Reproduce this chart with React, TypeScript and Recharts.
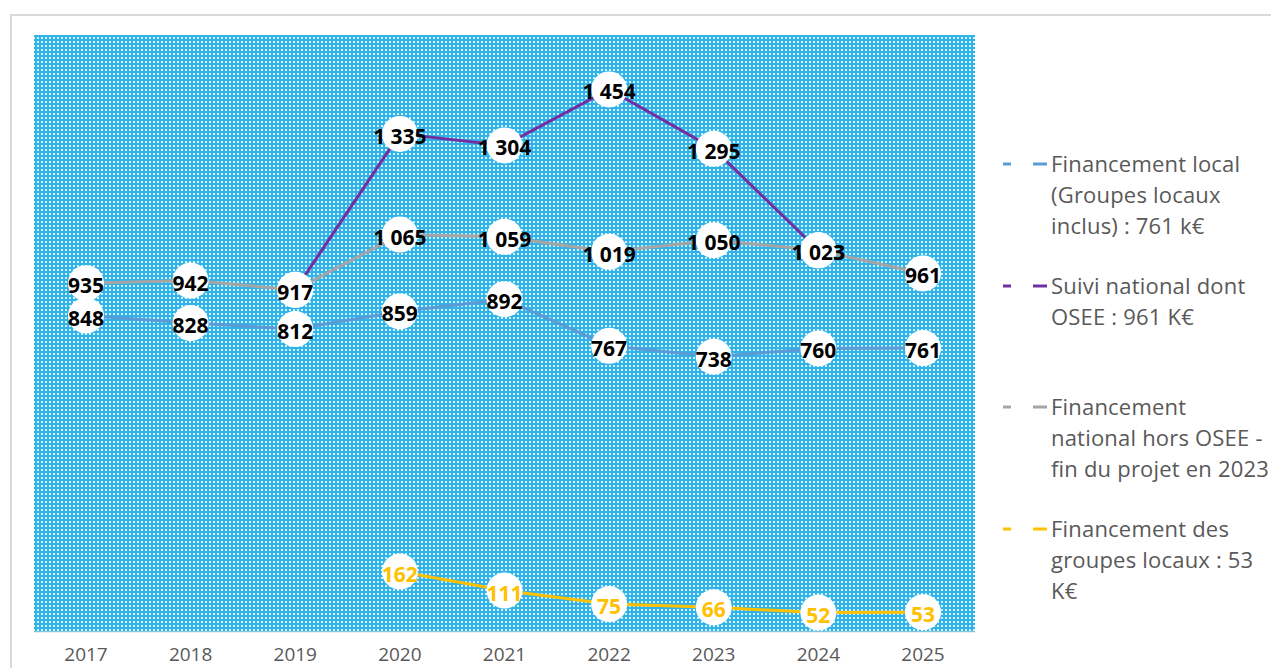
import { LineChart, Line, XAxis, YAxis, CartesianGrid } from 'recharts'

const years = ['2017', '2018', '2019', '2020', '2021', '2022', '2023', '2024', '2025']
const financementLocal = [848, 828, 812, 859, 892, 767, 738, 760, 761]
const horsOsee = [935, 942, 917, 1065, 1059, 1019, 1050, 1023, 961]
const suiviNational = [null, null, 917, 1335, 1304, 1454, 1295, 1023, null]
const groupesLocaux = [null, null, null, 162, 111, 75, 66, 52, 53]

const series = [
  { key: 'local', color: '#5B9BD5', textColor: '#000000', lines: ['Financement local', '(Groupes locaux', 'inclus) : 761 k€'] },
  { key: 'hors', color: '#A5A5A5', textColor: '#000000', lines: ['Financement', 'national hors OSEE -', 'fin du projet en 2023'] },
  { key: 'suivi', color: '#7030A0', textColor: '#000000', lines: ['Suivi national dont', 'OSEE : 961 K€'] },
  { key: 'groupes', color: '#FFC000', textColor: '#FFC000', lines: ['Financement des', 'groupes locaux : 53', 'K€'] },
]

// ordre de la légende comme sur l'image
const legendOrder = ['local', 'suivi', 'hors', 'groupes']

const data = years.map((year, i) => ({
  year,
  local: financementLocal[i],
  hors: horsOsee[i],
  suivi: suiviNational[i],
  groupes: groupesLocaux[i],
}))

const FONT = '"Open Sans", "Liberation Sans", sans-serif'

const fmt = (v: number) => {
  const s = String(v)
  return s.length > 3 ? s.slice(0, s.length - 3) + ' ' + s.slice(-3) : s
}

function makeDot(color: string) {
  return (props: any) => {
    const { cx, cy, value, index } = props
    if (cx == null || cy == null || value == null) return <g key={index} />
    return (
      <g key={index}>
        <circle cx={cx} cy={cy} r={18} fill="#ffffff" />
        <text
          x={cx}
          y={cy + 10}
          textAnchor="middle"
          fontFamily={FONT}
          fontWeight={700}
          fontSize={21}
          fill={color}
        >
          {fmt(value)}
        </text>
      </g>
    )
  }
}

function LegendBox() {
  return (
    <div
      style={{
        position: 'absolute',
        left: 1003,
        top: 148,
        fontFamily: FONT,
        fontSize: 22,
        letterSpacing: 0.2,
        color: '#595959',
        lineHeight: '31px',
      }}
    >
      {legendOrder.map(k => {
        const s = series.find(x => x.key === k)!
        return (
          <div key={k} style={{ position: 'relative', height: 121.7, whiteSpace: 'nowrap' }}>
            <svg width={48} height={8} style={{ position: 'absolute', left: 0, top: 12 }}>
              <line x1={0} y1={4} x2={8} y2={4} stroke={s.color} strokeWidth={3} />
              <line x1={30} y1={4} x2={44} y2={4} stroke={s.color} strokeWidth={3} />
            </svg>
            <div style={{ position: 'absolute', left: 48, top: 0 }}>
              {s.lines.map((t, i) => (
                <div key={i}>{t}</div>
              ))}
            </div>
          </div>
        )
      })}
    </div>
  )
}

export default function App() {
  return (
    <div style={{ position: 'relative', width: 1271, height: 668, overflow: 'hidden', background: '#fff' }}>
      <style>{'body{margin:0}'}</style>
      <div
        style={{
          position: 'absolute',
          left: 10,
          top: 14,
          width: 1400,
          height: 800,
          borderLeft: '2px solid #D9D9D9',
          borderTop: '2px solid #D9D9D9',
        }}
      />
      <div style={{ position: 'absolute', left: 0, top: 0 }}>
        <LineChart
          width={1271}
          height={668}
          data={data}
          margin={{ top: 35, right: 296, bottom: 6, left: 34 }}
        >
          <defs>
            <pattern id="dots" width={4} height={4} patternUnits="userSpaceOnUse">
              <rect width={4} height={4} fill="#2FB3E8" />
              <rect x={1} y={1} width={2} height={2} fill="#D6F1FC" />
            </pattern>
          </defs>
          <CartesianGrid fill="url(#dots)" stroke="none" horizontal={false} vertical={false} />
          <XAxis
            dataKey="year"
            padding={{ left: 52, right: 52 }}
            axisLine={{ stroke: '#D9D9D9', strokeWidth: 1 }}
            tickLine={false}
            tickMargin={10}
            height={30}
            interval={0}
            tick={{ fontSize: 19, fill: '#595959', fontFamily: FONT }}
          />
          <YAxis hide domain={[0, 1600]} />
          {series.map(s => (
            <Line
              key={'l-' + s.key}
              dataKey={s.key}
              stroke={s.color}
              strokeWidth={3}
              dot={false}
              activeDot={false}
              connectNulls={false}
              isAnimationActive={false}
            />
          ))}
          {series.map(s => (
            <Line
              key={'d-' + s.key}
              dataKey={s.key}
              stroke="none"
              strokeWidth={0}
              dot={makeDot(s.textColor)}
              activeDot={false}
              isAnimationActive={false}
            />
          ))}
        </LineChart>
      </div>
      <LegendBox />
    </div>
  )
}
